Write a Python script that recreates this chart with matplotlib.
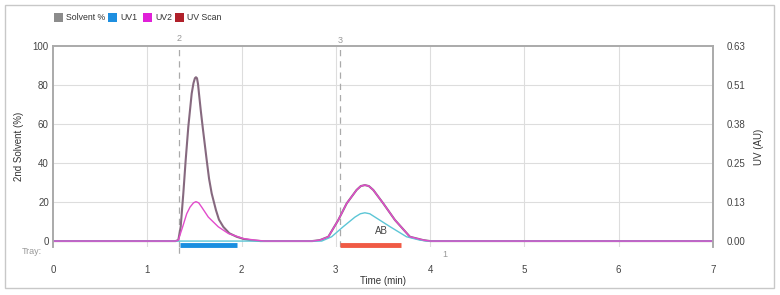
import matplotlib
matplotlib.use("Agg")
import matplotlib.pyplot as plt
from matplotlib.patches import Rectangle

plt.rcParams["font.family"] = ["Liberation Sans", "DejaVu Sans"]

# UV Scan trace, time in min, value on the % scale
scan_t = [0.0, 1.30, 1.329, 1.354, 1.382, 1.407, 1.435, 1.471, 1.49, 1.505,
          1.516, 1.527, 1.538, 1.548, 1.567, 1.587, 1.63, 1.655, 1.683,
          1.728, 1.76, 1.806, 1.87, 1.948, 2.02, 2.089, 2.20,
          2.75, 2.831, 2.92, 3.026, 3.115, 3.22, 3.265, 3.308, 3.35,
          3.397, 3.503, 3.627, 3.786, 3.927, 4.0, 7.0]
scan_v = [0.0, 0.0, 0.5, 7.3, 24.4, 41.5, 58.6, 75.7, 81, 83.5,
          84, 83.5, 80.5, 75.7, 67, 58.6, 41.5, 32, 24.4,
          15.9, 11, 7.3, 4.0, 2.2, 1.1, 0.5, 0.0,
          0.0, 0.5, 2.2, 10.8, 19.3, 26.2, 28.2, 28.7, 28.2,
          26.2, 19.3, 10.8, 2.2, 0.5, 0.0, 0.0]

# UV2 trace
uv2_t = [0.0, 1.30, 1.329, 1.375, 1.418, 1.453, 1.49, 1.516, 1.545, 1.577,
         1.647, 1.753, 1.859, 2.018, 2.142, 2.25,
         2.75, 2.831, 2.92, 3.026, 3.115, 3.22, 3.265, 3.308, 3.35,
         3.397, 3.503, 3.627, 3.786, 3.927, 4.0, 7.0]
uv2_v = [0.0, 0.0, 0.5, 7.3, 14.0, 17.4, 19.6, 20.2, 19.6, 17.4,
         12.3, 7.3, 3.9, 1.3, 0.5, 0.0,
         0.0, 0.5, 2.2, 10.8, 19.3, 26.2, 28.2, 28.7, 28.2,
         26.2, 19.3, 10.8, 2.2, 0.5, 0.0, 0.0]

# UV1 trace
uv1_t = [0.0, 2.85, 2.955, 3.079, 3.203, 3.26, 3.308, 3.36, 3.415,
         3.574, 3.75, 3.89, 3.97, 7.0]
uv1_v = [0.0, 0.0, 2.2, 7.4, 12.3, 14.0, 14.5, 14.0, 12.3,
         7.4, 2.2, 0.5, 0.0, 0.0]

# fractions and markers
frac_start = [1.35, 3.04]
frac_end = [1.95, 3.69]
frac_color = ["#1a8fe0", "#f05a45"]
marker_t = [1.34, 3.04]

x_ticks = [0, 1, 2, 3, 4, 5, 6, 7]
y_ticks = [0, 20, 40, 60, 80, 100]
uv_labels = ["0.00", "0.13", "0.25", "0.38", "0.51", "0.63"]

fig = plt.figure(figsize=(7.8, 2.95), dpi=100)
fig.patches.append(Rectangle((0.007, 0.024), 0.985, 0.958, transform=fig.transFigure,
                             fill=False, edgecolor="#c8c8c8", lw=1))
ax = fig.add_axes([0.068, 0.163, 0.846, 0.681])

ax.set_xlim(0, 7)
ax.set_ylim(-3, 100)
for x in x_ticks[1:-1]:
    ax.axvline(x, color="#dddddd", lw=0.8, zorder=0)
for y in y_ticks[1:-1]:
    ax.axhline(y, color="#dddddd", lw=0.8, zorder=0)

for t in marker_t:
    ax.axvline(t, color="#aaaaaa", lw=0.9, ls=(0, (5, 4)), zorder=1)

ax.plot(scan_t, scan_v, color="#86697f", lw=1.5, zorder=3)
ax.plot(uv1_t, uv1_v, color="#5cc6d6", lw=1.0, zorder=4)
ax.plot(uv2_t, uv2_v, color="#e24ccc", lw=1.0, zorder=4)

for s, e, c in zip(frac_start, frac_end, frac_color):
    ax.plot([s, e], [-1.8, -1.8], color=c, lw=3.5, solid_capstyle="butt", zorder=5,
            clip_on=False)

ax.text(3.48, 2.5, "AB", fontsize=7, color="#444444", ha="center", va="bottom")
ax.text(4.16, -7, "1", fontsize=6.5, color="#999999", ha="center", va="center")
ax.text(1.34, 104, "2", fontsize=6.5, color="#999999", ha="center", va="center")
ax.text(3.05, 100.5, "3", fontsize=6.5, color="#999999", ha="center", va="bottom")
ax.text(-0.12, -5.5, "Tray:", fontsize=6.5, color="#999999", ha="right", va="center")
ax.plot([1.34, 1.34], [-3, -8], color="#aaaaaa", lw=0.9, ls=(0, (5, 4)), clip_on=False)

ax.set_xticks(x_ticks)
ax.set_yticks(y_ticks)
ax.tick_params(axis="x", length=0, pad=13, labelsize=7, labelcolor="#444444")
ax.tick_params(axis="y", length=0, pad=3, labelsize=7, labelcolor="#444444")
ax.set_xlabel("Time (min)", fontsize=7, color="#333333", labelpad=1)
ax.set_ylabel("2nd Solvent (%)", fontsize=7, color="#333333", labelpad=6)

ax2 = ax.twinx()
ax2.set_ylim(ax.get_ylim())
ax2.set_yticks(y_ticks)
ax2.set_yticklabels(uv_labels)
ax2.tick_params(axis="y", length=0, pad=10, labelsize=7, labelcolor="#444444")
ax2.set_ylabel("UV (AU)", fontsize=7, color="#333333", labelpad=6)

for a in (ax, ax2):
    a.spines["bottom"].set_visible(False)
    for side in ("top", "left", "right"):
        a.spines[side].set_color("#aaaaaa")
        a.spines[side].set_linewidth(1.2)

# legend
leg_lbl = ["Solvent %", "UV1", "UV2", "UV Scan"]
leg_col = ["#8c8c8c", "#1e8fe0", "#e020d8", "#b0202a"]
leg_x = [54, 108, 143, 175]
for lbl, col, lx in zip(leg_lbl, leg_col, leg_x):
    fig.patches.append(Rectangle((lx / 780, 1 - 22 / 295), 9 / 780, 9 / 295,
                                 transform=fig.transFigure, facecolor=col,
                                 edgecolor="none"))
    fig.text((lx + 12) / 780, 1 - 17.5 / 295, lbl, fontsize=6.3, color="#333333",
             va="center", ha="left")

fig.savefig("out.png", dpi=100)
